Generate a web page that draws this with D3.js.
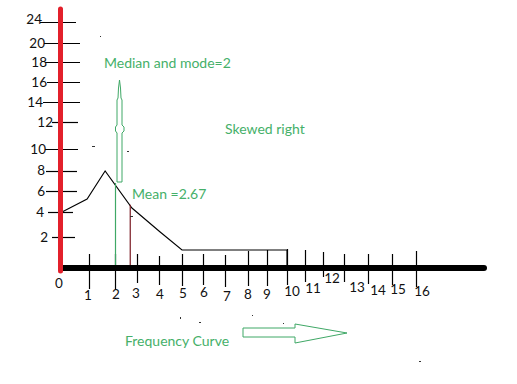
<!DOCTYPE html>
<html><head><meta charset="utf-8">
<script src="https://cdn.jsdelivr.net/npm/d3@7/dist/d3.min.js"></script>
<style>body{margin:0;background:#fff}svg{display:block}text{font-family:Lato,'Open Sans',sans-serif}</style>
</head><body><svg id="c" width="517" height="384"></svg>
<script>
// ---- data ----
const xTickValues = [0,1,2,3,4,5,6,7,8,9,10,11,12,13,14,15,16];
const xTickLabels = ["0","1","2","3","4","5","6","7","8","9","10","11","12","13","14","15","16"];
const yTickValues = [0,2,4,6,8,10,12,14,16,18,20,24];
const yTickLabels = ["","2","4","6","8","10","12","14","16","18","20","24"];
const curveX = [0,0.93,1.62,2.77,4.05,5,10,10];
const curveY = [4,5.24,8,4.38,2.4,1.16,1.16,0];
const medianValue = 2;
const meanValue = 2.67;
const labelMedian = "Median and mode=2";
const labelSkew = "Skewed right";
const labelMean = "Mean =2.67";
const labelCurve = "Frequency Curve";

// ---- layout (hand-drawn, uneven tick spacing) ----
const xRangePx = [62,89,115,137,159,182,203,225,248,267,287,305,323,344,368,392,416];
const yRangePx = [268,237,212,191,171,149,122,102,82,62,43,22];
const xLabelDx = [-3,-1,1,-1,1,1,1,2,0,0,5,8,9,13,10,6,6];
const xLabelCy = [283,295,294,293,294,293,292,296,294,294,291,288,278,287,290,289,291];
const xTickTop = [0,254,254,254,256,254,254,255,251,250,249,250,252,254,254,254,251];
const xTickBot = [0,289,290,283,285,286,285,287,286,286,285,282,277,282,284,285,287];
const yTickL = [0,52,48,46,46,45,52,43,47,45,44,40];
const yTickR = [0,75,73,77,77,78,78,80,80,80,80,76];
const yLabelR = [0,48,44,45,45,46,53,43,47,47,45,42];
const yLabelCy = [0,237,212,191,170,149,122,102,82,62,43,19];

const green = "#3fa866", textGreen = "#45b069", red = "#e3202b", maroon = "#7a1a22";

const svg = d3.select("#c");
const x = d3.scaleLinear().domain(xTickValues).range(xRangePx);
const y = d3.scaleLinear().domain(yTickValues).range(yRangePx);

// y ticks
const yg = svg.append("g");
yTickValues.forEach((v,i)=>{
  if(i===0) return;
  yg.append("line").attr("x1",yTickL[i]).attr("x2",yTickR[i]).attr("y1",y(v)+0.5).attr("y2",y(v)+0.5)
    .attr("stroke","#000").attr("stroke-width",1.2);
  yg.append("text").attr("x",yLabelR[i]).attr("y",yLabelCy[i]).attr("dy","0.36em")
    .attr("text-anchor","end").attr("font-size",13.5).attr("fill","#111").text(yTickLabels[i]);
});

// x ticks
const xg = svg.append("g");
xTickValues.forEach((v,i)=>{
  if(i>0){
    xg.append("line").attr("x1",x(v)+0.5).attr("x2",x(v)+0.5).attr("y1",xTickTop[i]).attr("y2",xTickBot[i])
      .attr("stroke","#000").attr("stroke-width",1.2);
  }
  xg.append("text").attr("x",x(v)+xLabelDx[i]).attr("y",xLabelCy[i]).attr("dy","0.36em")
    .attr("text-anchor","middle").attr("font-size",13.5).attr("fill","#111").text(xTickLabels[i]);
});

// curve
const pts = curveX.map((d,i)=>[d,curveY[i]]);
svg.append("path").attr("d",d3.line().x(d=>x(d[0])).y(d=>y(d[1]))(pts))
  .attr("fill","none").attr("stroke","#000").attr("stroke-width",1.1);

function curveAt(v){
  for(let i=0;i<curveX.length-1;i++){
    if(v>=curveX[i] && v<=curveX[i+1]){
      const t=(v-curveX[i])/(curveX[i+1]-curveX[i]);
      return curveY[i]+t*(curveY[i+1]-curveY[i]);
    }
  }
  return 0;
}
// median & mean lines
svg.append("line").attr("x1",x(medianValue)+0.5).attr("x2",x(medianValue)+0.5)
  .attr("y1",y(curveAt(medianValue))).attr("y2",y(0)).attr("stroke",green).attr("stroke-width",1.2);
svg.append("line").attr("x1",x(meanValue)+0.5).attr("x2",x(meanValue)+0.5)
  .attr("y1",y(curveAt(meanValue))).attr("y2",y(0)).attr("stroke",maroon).attr("stroke-width",1.2);

// axes
svg.append("line").attr("x1",x(0)).attr("x2",484).attr("y1",y(0)).attr("y2",y(0))
  .attr("stroke","#000").attr("stroke-width",6).attr("stroke-linecap","round");
svg.append("line").attr("x1",60.5).attr("x2",60.5).attr("y1",9).attr("y2",y(0)+3)
  .attr("stroke",red).attr("stroke-width",5).attr("stroke-linecap","round");

// up arrow (median)
const upArrow = [[119.5,80],[120.5,88],[121,98],[122,100],[122,125],[124,127],[124,131],[122,133],[122,182],[117,182],[117,133],[115.5,131],[115.5,127],[117,125],[117,100],[118,98],[118.5,88]];
svg.append("polygon").attr("points",upArrow.map(p=>p.join(",")).join(" "))
  .attr("fill","#fff").attr("stroke",green).attr("stroke-width",1);

// right arrow (frequency curve)
const rightArrow = [[243,328],[295,328],[295,324],[347,333],[295,343],[295,337],[243,337]];
svg.append("polygon").attr("points",rightArrow.map(p=>p.join(",")).join(" "))
  .attr("fill","#fff").attr("stroke",green).attr("stroke-width",1);

// annotations
const ann = [[labelMedian,104,68],[labelSkew,225,134],[labelMean,132,199],[labelCurve,125,346]];
ann.forEach(a=>svg.append("text").attr("x",a[1]).attr("y",a[2]).attr("font-size",14)
  .attr("fill",textGreen).text(a[0]));

// stray specks of the hand drawing
const specks = [[100,36,1,1],[92,146,3,1],[127,151,2,1],[130,216,3,1],[180,317,1,2],[199,322,2,1],[252,315,1,1],[283,323,1,1],[419,361,2,1]];
specks.forEach(s=>svg.append("rect").attr("x",s[0]).attr("y",s[1]).attr("width",s[2]).attr("height",s[3]).attr("fill","#333"));
</script></body></html>
